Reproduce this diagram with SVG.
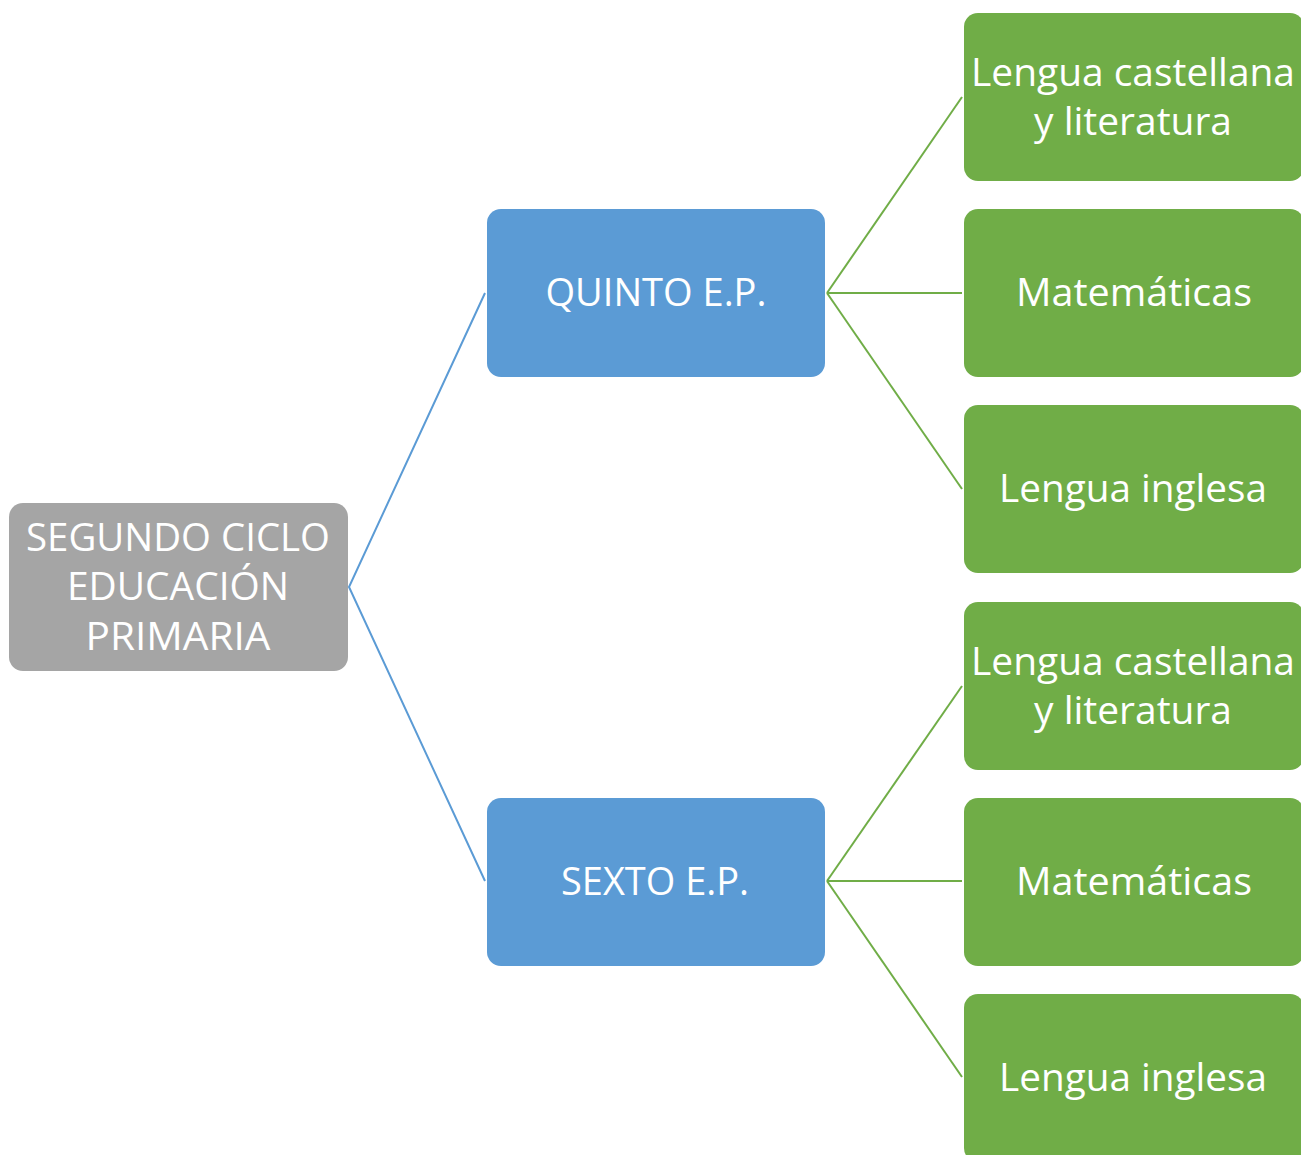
<svg xmlns="http://www.w3.org/2000/svg" width="1301" height="1155" viewBox="0 0 1301 1155">
<style>
.t{font-family:"Open Sans","Noto Sans","DejaVu Sans",sans-serif;font-size:39px;fill:#ffffff;text-anchor:middle}
.gray{fill:#A5A5A5}
.blue{fill:#5B9BD5}
.green{fill:#70AD47}
.cb{stroke:#5B9BD5;stroke-width:2;fill:none}
.cg{stroke:#70AD47;stroke-width:2;fill:none}
</style>
<rect width="1301" height="1155" fill="#ffffff"/>
<g id="connectors">
<polyline class="cb" points="485,293 349,587 485,881"/>
<line class="cg" x1="827" y1="293" x2="962" y2="97"/>
<line class="cg" x1="827" y1="293" x2="962" y2="293"/>
<line class="cg" x1="827" y1="293" x2="962" y2="489"/>
<line class="cg" x1="827" y1="881" x2="962" y2="686"/>
<line class="cg" x1="827" y1="881" x2="962" y2="881"/>
<line class="cg" x1="827" y1="881" x2="962" y2="1077"/>
</g>
<g id="root">
<rect class="gray" x="9" y="503" width="339" height="168" rx="14"/>
<text class="t" x="178" y="551" textLength="304" lengthAdjust="spacingAndGlyphs">SEGUNDO CICLO</text>
<text class="t" x="178" y="600" textLength="222" lengthAdjust="spacingAndGlyphs">EDUCACIÓN</text>
<text class="t" x="178" y="650" textLength="185" lengthAdjust="spacingAndGlyphs">PRIMARIA</text>
</g>
<g id="quinto">
<rect class="blue" x="487" y="209" width="338" height="168" rx="14"/>
<text class="t" x="656" y="306" textLength="221" lengthAdjust="spacingAndGlyphs">QUINTO E.P.</text>
</g>
<g id="sexto">
<rect class="blue" x="487" y="798" width="338" height="168" rx="14"/>
<text class="t" x="655" y="895" textLength="188" lengthAdjust="spacingAndGlyphs">SEXTO E.P.</text>
</g>
<g id="q-lengua">
<rect class="green" x="964" y="13" width="340" height="168" rx="14"/>
<text class="t" x="1133" y="86" textLength="324" lengthAdjust="spacingAndGlyphs">Lengua castellana</text>
<text class="t" x="1133" y="135" textLength="198" lengthAdjust="spacingAndGlyphs">y literatura</text>
</g>
<g id="q-mate">
<rect class="green" x="964" y="209" width="340" height="168" rx="14"/>
<text class="t" x="1134" y="306" textLength="236" lengthAdjust="spacingAndGlyphs">Matemáticas</text>
</g>
<g id="q-ingles">
<rect class="green" x="964" y="405" width="340" height="168" rx="14"/>
<text class="t" x="1133" y="502" textLength="268" lengthAdjust="spacingAndGlyphs">Lengua inglesa</text>
</g>
<g id="s-lengua">
<rect class="green" x="964" y="602" width="340" height="168" rx="14"/>
<text class="t" x="1133" y="675" textLength="324" lengthAdjust="spacingAndGlyphs">Lengua castellana</text>
<text class="t" x="1133" y="724" textLength="198" lengthAdjust="spacingAndGlyphs">y literatura</text>
</g>
<g id="s-mate">
<rect class="green" x="964" y="798" width="340" height="168" rx="14"/>
<text class="t" x="1134" y="895" textLength="236" lengthAdjust="spacingAndGlyphs">Matemáticas</text>
</g>
<g id="s-ingles">
<rect class="green" x="964" y="994" width="340" height="168" rx="14"/>
<text class="t" x="1133" y="1091" textLength="268" lengthAdjust="spacingAndGlyphs">Lengua inglesa</text>
</g>
</svg>
